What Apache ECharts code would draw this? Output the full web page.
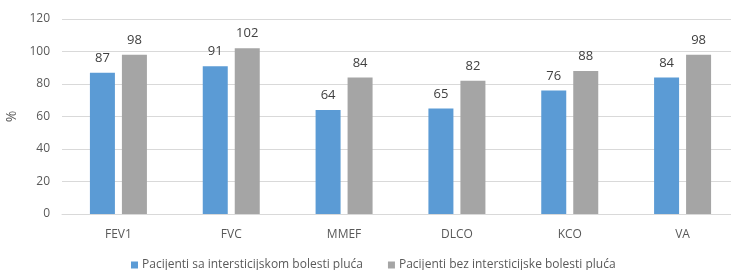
<!DOCTYPE html>
<html><head><meta charset="utf-8">
<script src="https://cdn.jsdelivr.net/npm/echarts@6/dist/echarts.min.js"></script>
<style>html,body{margin:0;padding:0;background:#fff}#c{width:731px;height:270px}</style>
</head><body><div id="c"></div>
<script>
const categories = ['FEV1','FVC','MMEF','DLCO','KCO','VA'];
const seriesNames = ['Pacijenti sa intersticijskom bolesti pluća','Pacijenti bez intersticijske bolesti pluća'];
const withILD = [87, 91, 64, 65, 76, 84];
const withoutILD = [98, 102, 84, 82, 88, 98];
const yTicks = [0, 20, 40, 60, 80, 100, 120];

const font = '"Open Sans", "Noto Sans", sans-serif';
const chart = echarts.init(document.getElementById('c'), null, {renderer:'canvas'});
chart.setOption({
  animation:false,
  grid:{left:62, top:19, width:677, bottom:56, containLabel:false, outerBoundsMode:'none'},
  legend:{
    top:254, left:126, itemWidth:7, itemHeight:7, itemGap:25,
    icon:'rect',
    textStyle:{fontFamily:font, fontSize:12, color:'#595959', padding:[0,0,0,-1]},
    data:seriesNames
  },
  xAxis:{
    type:'category', data:categories,
    axisLine:{lineStyle:{color:'#D9D9D9'}}, axisTick:{show:false},
    axisLabel:{fontFamily:font, fontSize:12, color:'#595959', margin:15}
  },
  yAxis:{
    type:'value', min:yTicks[0], max:yTicks[yTicks.length-1], interval:20,
    name:'%', nameLocation:'middle', nameGap:38, nameRotate:90,
    nameTextStyle:{fontFamily:font, fontSize:14, color:'#595959'},
    axisLine:{show:false}, axisTick:{show:false},
    axisLabel:{fontFamily:font, fontSize:12, color:'#595959', margin:12},
    splitLine:{lineStyle:{color:'#D9D9D9'}}
  },
  series:[
    {name:seriesNames[0], type:'bar', data:withILD, barWidth:25, barGap:'28%',
     itemStyle:{color:'#5B9BD5'},
     label:{show:true, position:'top', distance:8, fontFamily:font, fontSize:13, color:'#404040'}},
    {name:seriesNames[1], type:'bar', data:withoutILD, barWidth:25, barGap:'28%',
     itemStyle:{color:'#A5A5A5'},
     label:{show:true, position:'top', distance:8, fontFamily:font, fontSize:13, color:'#404040'}}
  ]
});
</script></body></html>
